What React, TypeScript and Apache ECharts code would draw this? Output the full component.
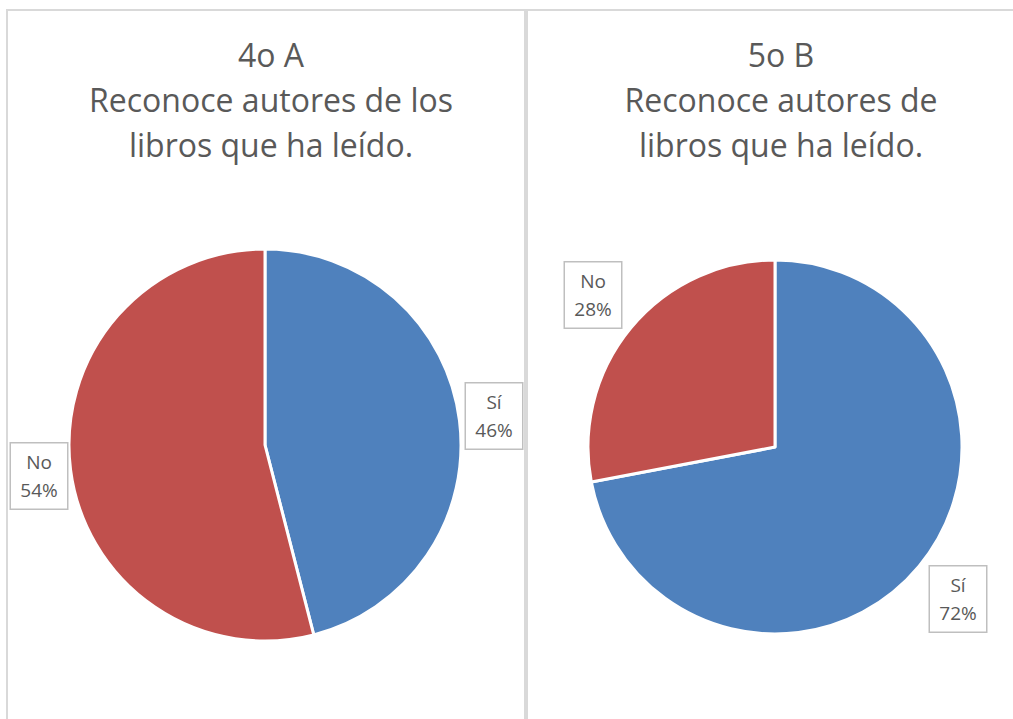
import React, { useEffect, useRef } from "react";
import * as echarts from "echarts";

const categories = ["Sí", "No"];
const valuesA = [46, 54];
const valuesB = [72, 28];
const titleA = "4o A\nReconoce autores de los\nlibros que ha leído.";
const titleB = "5o B\nReconoce autores de\nlibros que ha leído.";
const colors = ["#4f81bd", "#c0504d"];

const labelPosA = [
  [494, 416],
  [39, 476],
];
const labelPosB = [
  [958, 599],
  [593, 295],
];

export default function App() {
  const ref = useRef<HTMLDivElement>(null);
  useEffect(() => {
    if (!ref.current) return;
    const chart = echarts.init(ref.current, null, { renderer: "svg" });
    const font = "'Open Sans', Lato, sans-serif";
    const mkData = (vals: number[]) =>
      categories.map((c, i) => ({ name: c, value: vals[i], itemStyle: { color: colors[i] } }));
    const labelStyle = {
      show: true,
      position: "outside",
      alignTo: "none",
      overflow: "none",
      formatter: (p: any) => `${p.name}\n${p.value}%`,
      fontFamily: font,
      fontSize: 19,
      lineHeight: 28,
      color: "#595959",
      backgroundColor: "#ffffff",
      borderColor: "#bfbfbf",
      borderWidth: 1.5,
      width: 40,
      padding: [5, 8, 4, 8],
      align: "center",
    };
    const mkLayout = (pos: number[][]) => (params: any) => ({
      x: pos[params.dataIndex][0],
      y: pos[params.dataIndex][1],
      align: "center",
      verticalAlign: "middle",
    });
    const titleStyle = { fontFamily: font, fontSize: 32, lineHeight: 45, color: "#595959", fontWeight: "normal" };
    chart.setOption({
      animation: false,
      backgroundColor: "#ffffff",
      title: [
        { text: titleA, left: 266, top: 27, textAlign: "center", textStyle: titleStyle },
        { text: titleB, left: 776, top: 27, textAlign: "center", textStyle: titleStyle },
      ],
      graphic: [
        { type: "rect", shape: { x: 7, y: 10, width: 518, height: 730 }, style: { fill: "none", stroke: "#d9d9d9", lineWidth: 2 }, z: -1 },
        { type: "rect", shape: { x: 527, y: 10, width: 520, height: 730 }, style: { fill: "none", stroke: "#d9d9d9", lineWidth: 2 }, z: -1 },
      ],
      series: [
        {
          type: "pie",
          center: [265, 445],
          radius: 196,
          startAngle: 90,
          clockwise: true,
          data: mkData(valuesA),
          itemStyle: { borderColor: "#ffffff", borderWidth: 3 },
          label: labelStyle,
          labelLine: { show: false },
          labelLayout: mkLayout(labelPosA),
          emphasis: { disabled: true },
        },
        {
          type: "pie",
          center: [775, 447],
          radius: 187,
          startAngle: 90,
          clockwise: true,
          data: mkData(valuesB),
          itemStyle: { borderColor: "#ffffff", borderWidth: 3 },
          label: labelStyle,
          labelLine: { show: false },
          labelLayout: mkLayout(labelPosB),
          emphasis: { disabled: true },
        },
      ],
    });
    return () => chart.dispose();
  }, []);
  return (
    <div
      ref={ref}
      style={{ position: "absolute", left: 0, top: 0, width: 1013, height: 719 }}
    />
  );
}
